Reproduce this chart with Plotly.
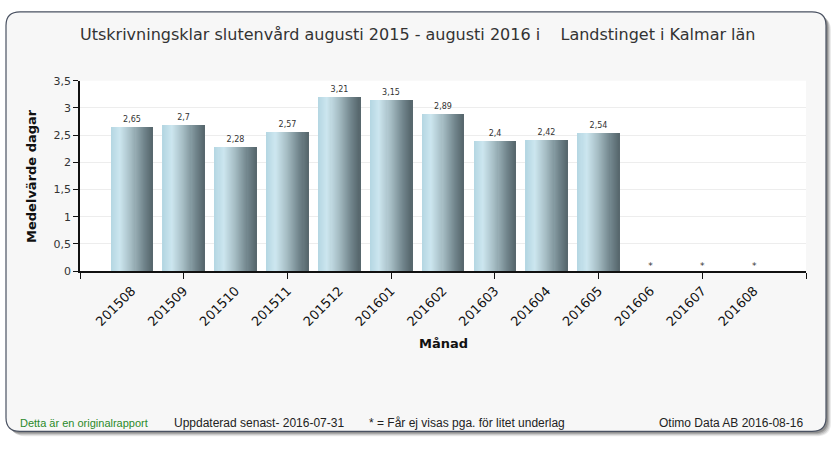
import plotly.graph_objects as go

# data
months = ["201508", "201509", "201510", "201511", "201512", "201601", "201602",
          "201603", "201604", "201605", "201606", "201607", "201608"]
medel_dagar = [2.65, 2.7, 2.28, 2.57, 3.21, 3.15, 2.89, 2.4, 2.42, 2.54, None, None, None]
hidden_months = ["201606", "201607", "201608"]  # "*" = too few cases to show

W, H = 840, 450


def px(x):
    return x / W


def py(y):
    return 1 - y / H


def hexmix(c1, c2, t):
    a = [int(c1[i:i + 2], 16) for i in (1, 3, 5)]
    b = [int(c2[i:i + 2], 16) for i in (1, 3, 5)]
    return "#%02x%02x%02x" % tuple(round(a[k] + (b[k] - a[k]) * t) for k in range(3))


# horizontal shading of the bars (left -> right)
stops = [(0.0, "#b4d6e2"), (0.22, "#cce6ef"), (0.5, "#a5bcc3"), (0.8, "#71858c"), (1.0, "#56666c")]


def shade(t):
    for (t0, c0), (t1, c1) in zip(stops, stops[1:]):
        if t <= t1:
            return hexmix(c0, c1, (t - t0) / (t1 - t0))
    return stops[-1][1]


idx = list(range(len(months)))
bar_w = 0.8
n_strips = 40
strip = bar_w / n_strips

fig = go.Figure()

for s in range(n_strips):
    fig.add_trace(go.Bar(
        x=idx, y=medel_dagar,
        width=strip * 1.6, offset=-bar_w / 2 + s * strip,
        marker=dict(color=shade((s + 0.5) / n_strips), line=dict(width=0)),
        hoverinfo="skip", showlegend=False,
    ))

# value labels above bars
fig.add_trace(go.Bar(
    x=idx, y=medel_dagar, width=bar_w,
    marker=dict(color="rgba(0,0,0,0)", line=dict(width=0)),
    text=[("%g" % v).replace(".", ",") if v is not None else "" for v in medel_dagar],
    textposition="outside", textfont=dict(size=8, color="#333333", family="DejaVu Sans"),
    cliponaxis=False, showlegend=False,
))

# stars for hidden months
star_x = [months.index(m) for m in hidden_months]
fig.add_trace(go.Scatter(
    x=star_x, y=[0] * len(star_x), mode="text", text=["*"] * len(star_x),
    textposition="top center", textfont=dict(size=9, color="#333333", family="DejaVu Sans"),
    showlegend=False, cliponaxis=False,
))

# extra axis that only carries the tick marks (every second month)
fig.add_trace(go.Scatter(x=[-1, 13], y=[None, None], xaxis="x2", showlegend=False,
                         hoverinfo="skip"))

# card background with rounded corners and a soft shadow
x0, y0, x1, y1, r = 6, 6, 826, 438, 14


def rounded(xa, ya, xb, yb, rr):
    return ("M %f %f L %f %f Q %f %f %f %f L %f %f Q %f %f %f %f "
            "L %f %f Q %f %f %f %f L %f %f Q %f %f %f %f Z") % (
        px(xa + rr), py(ya), px(xb - rr), py(ya), px(xb), py(ya), px(xb), py(ya + rr),
        px(xb), py(yb - rr), px(xb), py(yb), px(xb - rr), py(yb),
        px(xa + rr), py(yb), px(xa), py(yb), px(xa), py(yb - rr),
        px(xa), py(ya + rr), px(xa), py(ya), px(xa + rr), py(ya))


shapes = []
for k, op in [(5, 0.10), (4, 0.15), (3, 0.2), (2, 0.3)]:
    shapes.append(dict(type="path", xref="paper", yref="paper", layer="below",
                       path=rounded(x0 + k, y0 + k, x1 + k, y1 + k, r),
                       fillcolor="rgba(60,60,60,%g)" % op, line=dict(width=0)))
shapes.append(dict(type="path", xref="paper", yref="paper", layer="below",
                   path=rounded(x0, y0, x1, y1, r),
                   fillcolor="#f7f7f7", line=dict(color="#4a5262", width=1.2)))
shapes.append(dict(type="rect", xref="paper", yref="paper", layer="below",
                   x0=px(80), x1=px(806), y0=py(273), y1=py(77),
                   fillcolor="#ffffff", line=dict(width=0)))

title_font = dict(family="DejaVu Sans", size=16, color="#333333")
foot_font = dict(family="Liberation Sans", size=12, color="#222222")
annotations = [
    dict(text="Utskrivningsklar slutenvård augusti 2015 - augusti 2016 i\u00a0\u00a0\u00a0\u00a0Landstinget i Kalmar län",
         x=px(418), y=py(29), xref="paper", yref="paper", showarrow=False,
         xanchor="center", yanchor="middle", font=title_font),
    dict(text="Månad", x=px(443), y=py(348), xref="paper", yref="paper", showarrow=False,
         xanchor="center", yanchor="middle",
         font=dict(family="DejaVu Sans", size=13, color="#111111", weight="bold")),
    dict(text="Medelvärde dagar", x=px(32), y=py(175), xref="paper", yref="paper",
         showarrow=False, textangle=-90, xanchor="center", yanchor="middle",
         font=dict(family="DejaVu Sans", size=13, color="#111111", weight="bold")),
    dict(text="Detta är en originalrapport", x=px(18), y=py(429), xref="paper", yref="paper",
         showarrow=False, xanchor="left", yanchor="middle",
         font=dict(family="Liberation Sans", size=11, color="#2a8a2a")),
    dict(text="Uppdaterad senast- 2016-07-31", x=px(172), y=py(429), xref="paper", yref="paper",
         showarrow=False, xanchor="left", yanchor="middle", font=foot_font),
    dict(text="* = Får ej visas pga. för litet underlag", x=px(367), y=py(429), xref="paper",
         yref="paper", showarrow=False, xanchor="left", yanchor="middle", font=foot_font),
    dict(text="Otimo Data AB 2016-08-16", x=px(805), y=py(429), xref="paper", yref="paper",
         showarrow=False, xanchor="right", yanchor="middle", font=foot_font),
]

fig.update_layout(
    width=W, height=H,
    margin=dict(l=0, r=0, t=0, b=0),
    paper_bgcolor="#ffffff", plot_bgcolor="rgba(0,0,0,0)",
    barmode="overlay", bargap=0, separators=", ",
    shapes=shapes, annotations=annotations,
    xaxis=dict(domain=[px(80), px(806)], range=[-1, 13], tickvals=idx, ticktext=months,
               tickangle=-45, ticks="outside", ticklen=6, tickcolor="rgba(0,0,0,0)",
               showgrid=False, zeroline=False, showline=False, fixedrange=True,
               tickfont=dict(family="DejaVu Sans", size=13, color="#111111")),
    xaxis2=dict(overlaying="x", anchor="y", side="bottom", range=[-1, 13],
                tickvals=list(range(-1, 14, 2)), ticks="outside", ticklen=6,
                tickcolor="#111111", showticklabels=False, showgrid=False,
                showline=True, linecolor="#111111", linewidth=1.5, zeroline=False),
    yaxis=dict(domain=[py(273), py(77)], range=[0, 3.5], dtick=0.5, ticks="outside",
               ticklen=5, tickcolor="#111111", showline=True, linecolor="#111111",
               linewidth=1.5, gridcolor="#ededed", zeroline=False, tickformat=".1~f",
               fixedrange=True, tickfont=dict(family="DejaVu Sans", size=11, color="#333333")),
)

# the page's default body margin would push the 840x450 figure off the window
fig.write_html("out.html", config={"displayModeBar": False},
               post_script="document.body.style.margin='0';")
